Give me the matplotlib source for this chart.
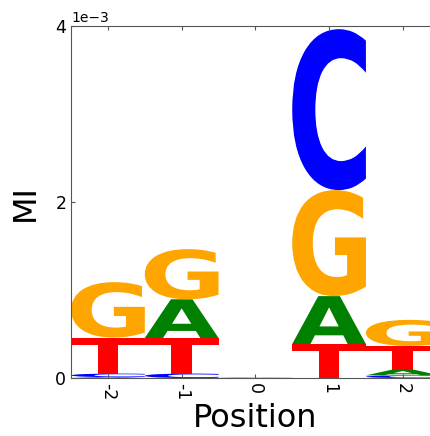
import matplotlib
matplotlib.use('Agg')
import matplotlib.pyplot as plt
from matplotlib.textpath import TextPath
from matplotlib.patches import PathPatch
from matplotlib.font_manager import FontProperties
from matplotlib.transforms import Affine2D

# mutual information per letter at each position (units of 1e-3)
positions = [-2, -1, 0, 1, 2]
mi_A = [0.01, 0.44, 0.003, 0.545, 0.065]
mi_C = [0.04, 0.05, 0.002, 1.83, 0.03]
mi_G = [0.63, 0.57, 0.004, 1.205, 0.296]
mi_T = [0.41, 0.405, 0.006, 0.386, 0.27]

colors = {'A': '#008000', 'C': '#0000ff', 'G': '#ffa500', 'T': '#ff0000'}
font = FontProperties(family='DejaVu Sans', weight='bold')


def draw_glyph(ax, char, x, floor, height, width=1.0):
    if height <= 0:
        return
    tp = TextPath((0, 0), char, size=1, prop=font)
    ext = tp.get_extents()
    tr = (Affine2D()
          .translate(-ext.x0, -ext.y0)
          .scale(width / ext.width, height / ext.height)
          .translate(x - width / 2, floor))
    ax.add_patch(PathPatch(tr.transform_path(tp), facecolor=colors[char],
                           edgecolor='none'))


fig = plt.figure(figsize=(4.31, 4.36), dpi=100)
ax = fig.add_axes([0.165, 0.133, 0.855, 0.807])

for i, p in enumerate(positions):
    vals = {'A': mi_A[i], 'C': mi_C[i], 'G': mi_G[i], 'T': mi_T[i]}
    floor = 0.0
    for ch, v in sorted(vals.items(), key=lambda kv: kv[1]):
        draw_glyph(ax, ch, p, floor * 1e-3, v * 1e-3)
        floor += v

ax.set_xlim(-2.5, 2.5)
ax.set_ylim(0, 4e-3)
ax.set_xticks(positions)
ax.set_xticklabels([str(p) for p in positions], rotation=270)
ax.set_yticks([0, 2e-3, 4e-3])
ax.ticklabel_format(axis='y', style='sci', scilimits=(0, 0))
ax.tick_params(direction='in', top=True, labelsize=12.5, length=3,
               color='#555555')
for s in ax.spines.values():
    s.set_color('#555555')
ax.set_xlabel('Position', fontsize=23, labelpad=2)
ax.set_ylabel('MI', fontsize=23, labelpad=10)

fig.savefig('out.png', dpi=100)
